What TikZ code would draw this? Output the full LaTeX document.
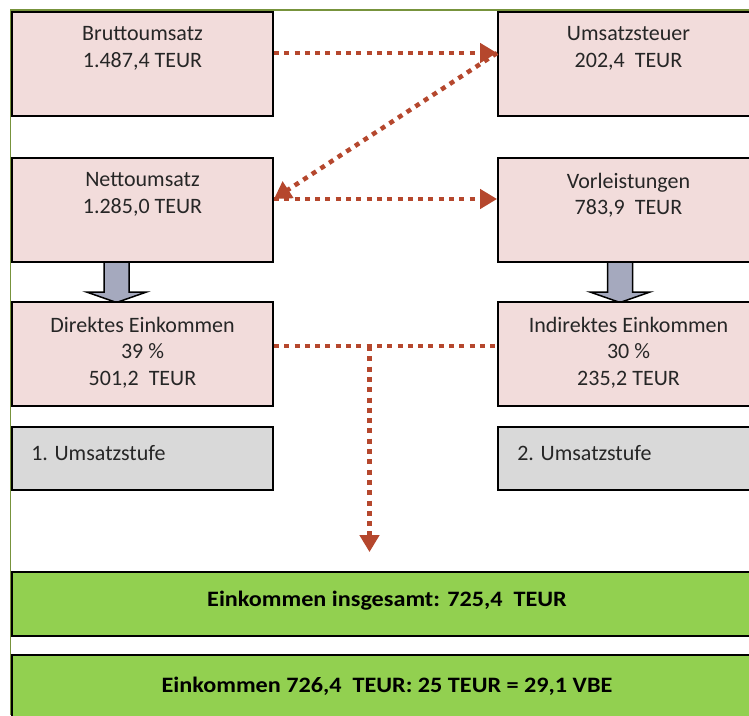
\documentclass[tikz,border=0pt]{standalone}
\usepackage{fontspec}
\setmainfont{Carlito}
\newfontfamily\sumfont[FakeStretch=1.1]{Carlito}
\usetikzlibrary{arrows.meta}

\definecolor{boxpink}{HTML}{F2DCDB}
\definecolor{boxgrey}{HTML}{D9D9D9}
\definecolor{sumgreen}{HTML}{92D050}
\definecolor{framegreen}{HTML}{77933C}
\definecolor{flowred}{HTML}{B5472D}
\definecolor{arrowgrey}{HTML}{A5A9BE}

\tikzset{
  pinkbox/.style={draw=black, fill=boxpink, line width=1.8pt, minimum width=261pt, minimum height=104pt, inner sep=0pt},
  stufebox/.style={pinkbox, fill=boxgrey, minimum height=63pt},
  sumbox/.style={draw=black, fill=sumgreen, line width=1.8pt, minimum width=750pt, minimum height=64pt, inner sep=0pt},
  boxtext/.style={align=center, inner sep=0pt, font=\fontsize{22}{26.5}\selectfont, text=black!85},
  sumtext/.style={inner sep=0pt, font=\sumfont\fontsize{22}{26.5}\selectfont\bfseries},
  flow/.style={draw=flowred, line width=4.5pt, dash pattern=on 5pt off 5.3pt},
  flowarrow/.style={flow, -{Triangle[length=17pt,width=19pt]}},
  greyarrow/.style={draw=black, fill=arrowgrey, line width=1.5pt, line join=miter}
}

\begin{document}
\begin{tikzpicture}[x=1pt, y=-1pt]
  \useasboundingbox (0,0) rectangle (749,715);
  \clip (0,0) rectangle (749,715);
  \draw[framegreen, line width=1.5pt] (10.5,715) -- (10.5,10) -- (760,10);

  % Blockpfeile
  \foreach \x in {116.5, 620} {
    \draw[greyarrow] ({\x-12.5},262) -- ({\x+12.5},262) -- ({\x+12.5},292) -- ({\x+30},292)
      -- (\x,302.5) -- ({\x-30},292) -- ({\x-12.5},292) -- cycle;
  }

  % Umsatzkette
  \node[pinkbox] (brutto) at (142.5,64) {};
  \node[pinkbox] (ust) at (628.5,64) {};
  \node[pinkbox] (netto) at (142.5,210) {};
  \node[pinkbox] (vorl) at (628.5,210) {};
  \node[pinkbox] (direkt) at (142.5,354) {};
  \node[pinkbox] (indirekt) at (628.5,354) {};
  \node[stufebox] (stufe1) at (142.5,458.5) {};
  \node[stufebox] (stufe2) at (628.5,458.5) {};

  \node[boxtext, anchor=north] (brutto-t) at ([yshift=-15.5pt]brutto.north) {Bruttoumsatz\\1.487,4 TEUR};
  \node[boxtext, anchor=north] (ust-t) at ([yshift=-15.5pt]ust.north) {Umsatzsteuer\\202,4~ TEUR};
  \node[boxtext, anchor=north] (netto-t) at ([yshift=-15.5pt]netto.north) {Nettoumsatz\\1.285,0 TEUR};
  \node[boxtext, anchor=north] (vorl-t) at ([yshift=-15.5pt]vorl.north) {Vorleistungen\\783,9~ TEUR};
  \node[boxtext, anchor=north] (direkt-t) at ([yshift=-15.5pt]direkt.north) {Direktes Einkommen\\39 \%\\501,2~ TEUR};
  \node[boxtext, anchor=north] (indirekt-t) at ([yshift=-15.5pt]indirekt.north) {Indirektes Einkommen\\30 \%\\235,2 TEUR};
  \node[boxtext, anchor=base west] (stufe1-t) at ([xshift=20pt,yshift=-2.2pt]stufe1.west) {1. Umsatzstufe};
  \node[boxtext, anchor=base west] (stufe2-t) at ([xshift=20pt,yshift=-2.2pt]stufe2.west) {2. Umsatzstufe};

  % Ergebnis
  \node[sumbox] (gesamt) at (387,604) {};
  \node[sumbox] (vbe) at (387,687) {};
  \node[sumtext, anchor=base] (gesamt-t) at ([yshift=-2pt]gesamt.center) {Einkommen insgesamt: 725,4~ TEUR};
  \node[sumtext, anchor=base] (vbe-t) at ([yshift=-5pt]vbe.center) {Einkommen 726,4~ TEUR: 25 TEUR = 29,1 VBE};

  % Zahlungsfluss
  \draw[flowarrow] ([yshift=11pt]brutto.east) -- ([yshift=11pt]ust.west);
  \draw[flowarrow] ([yshift=11pt]ust.west) -- ([yshift=11pt]netto.east);
  \draw[flowarrow] ([yshift=11pt]netto.east) -- ([yshift=11pt]vorl.west);
  \draw[flow] ([yshift=8pt]direkt.east) -- ([yshift=8pt]indirekt.west);
  \coordinate (knoten) at (369.5,346);
  \draw[flowarrow, shorten >=19pt] (knoten) -- (knoten |- gesamt.north);
\end{tikzpicture}
\end{document}
